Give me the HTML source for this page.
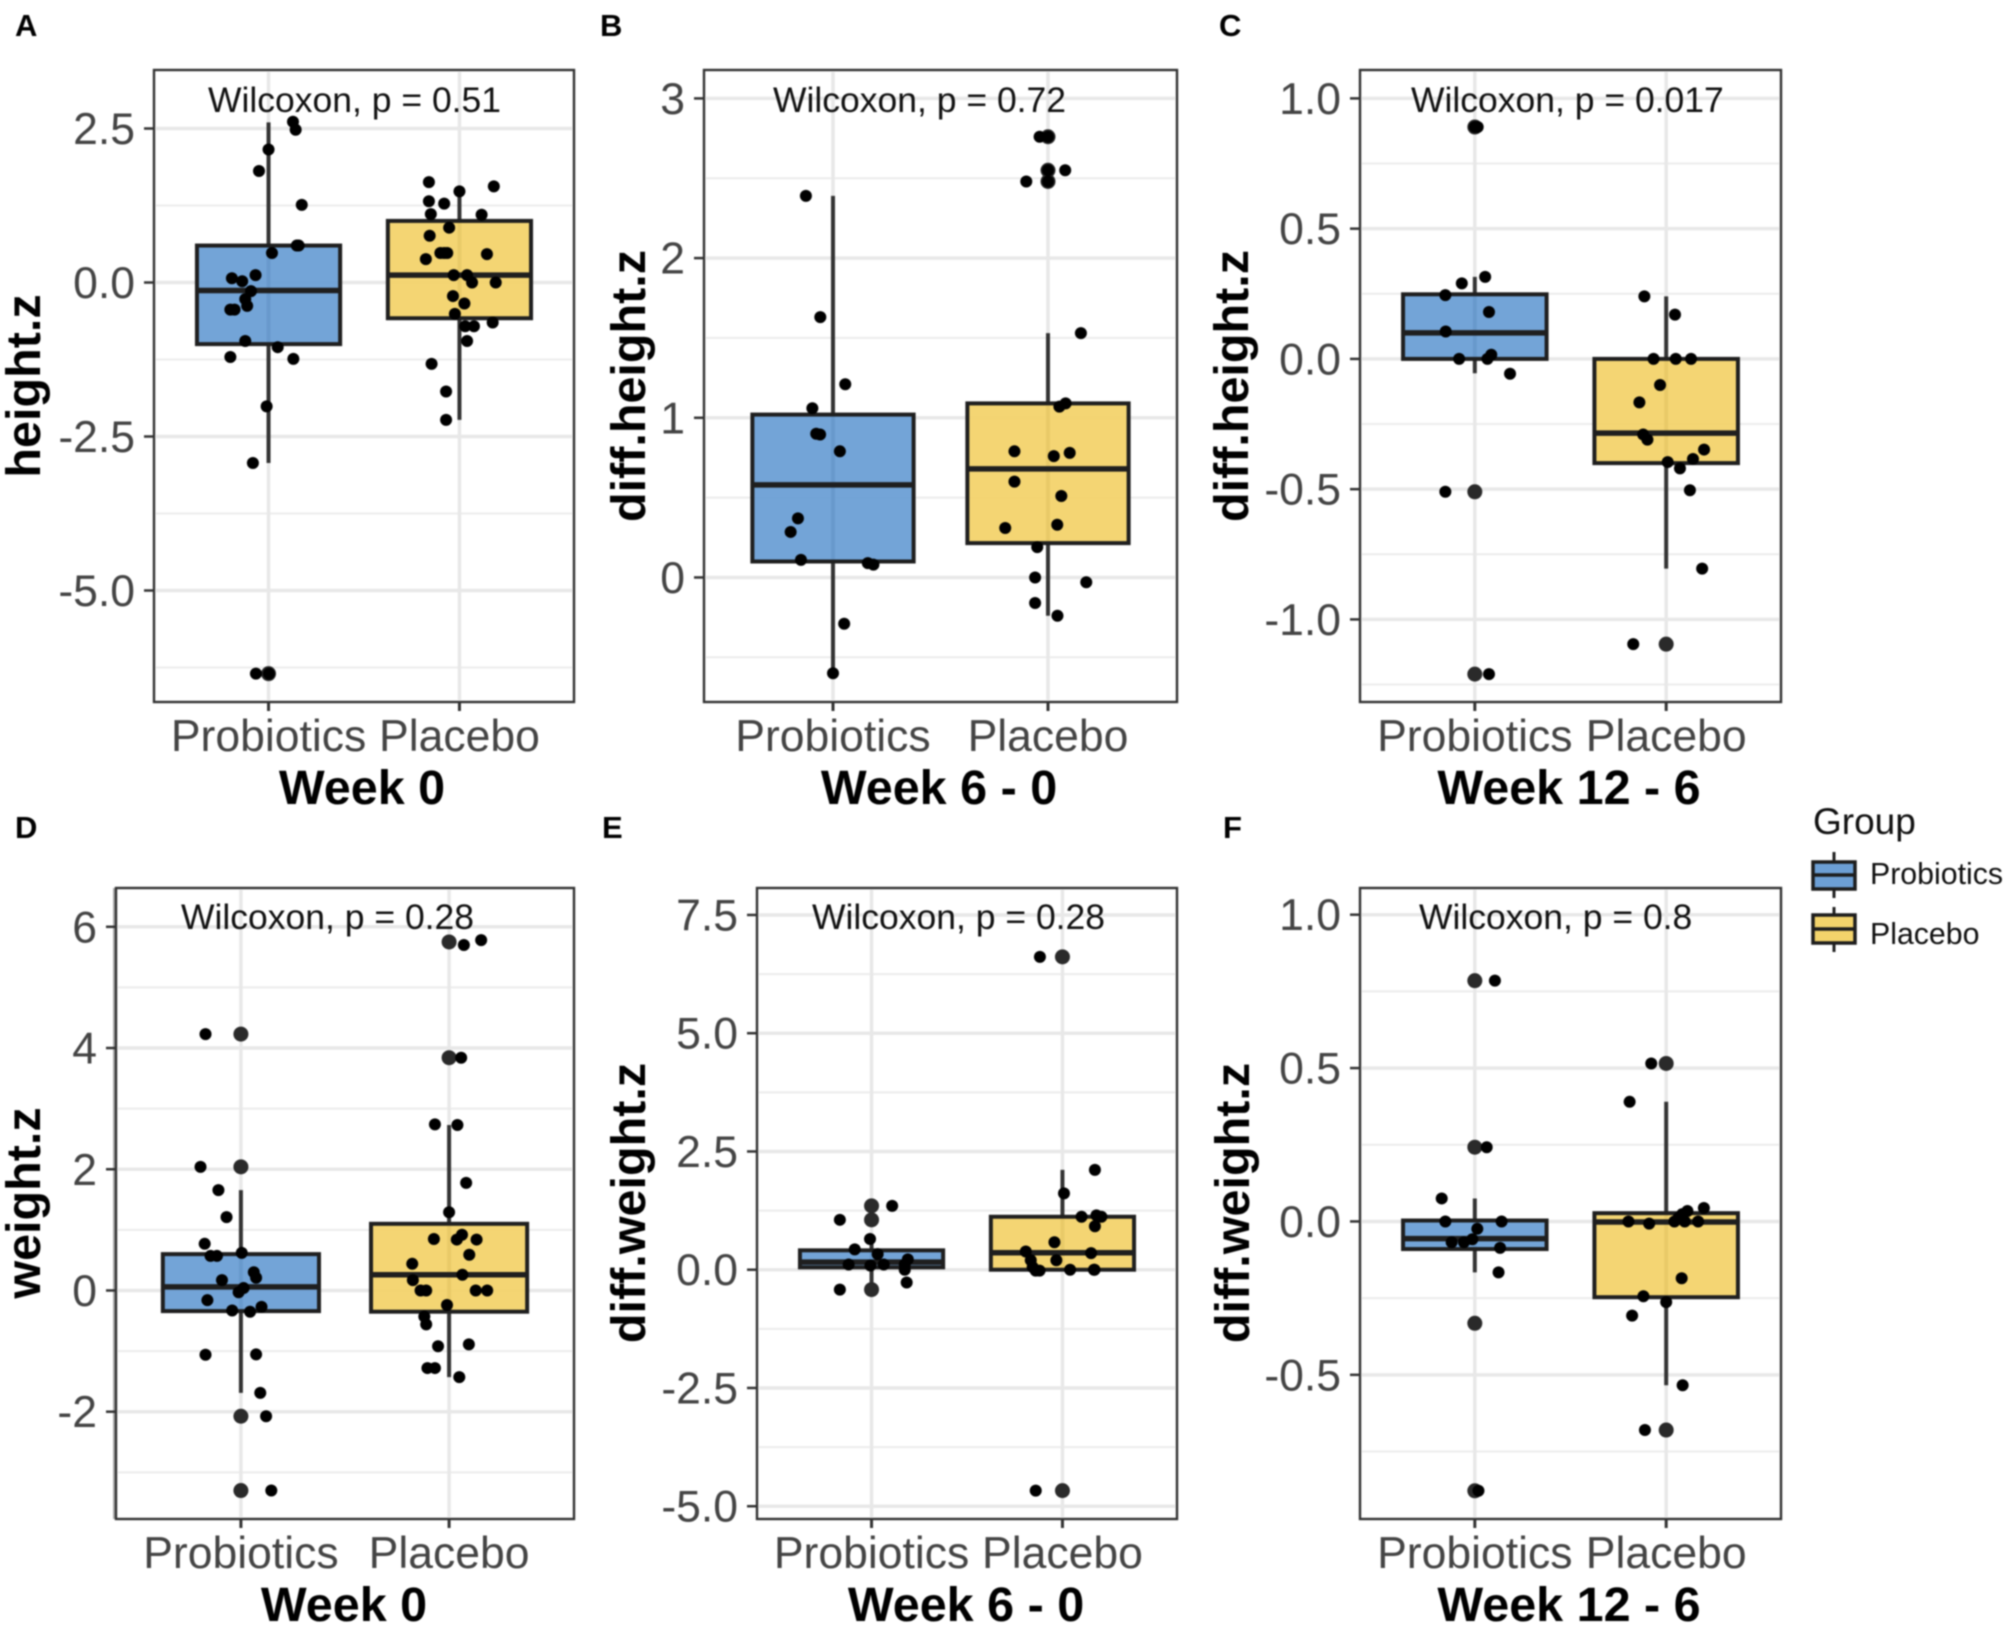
<!DOCTYPE html>
<html lang="en">
<head>
<meta charset="utf-8">
<title>Probiotics vs Placebo z-score boxplots</title>
<style>
html,body{margin:0;padding:0;background:#fff;}
#figure{display:block;width:2008px;height:1630px;filter:blur(0.75px);font-family:"Liberation Sans",Arial,sans-serif;}
.tag{font-size:31px;font-weight:700;fill:#000;}
.ytitle{font-size:48.5px;font-weight:700;fill:#000;text-anchor:middle;}
.xtitle{font-size:48.5px;font-weight:700;fill:#000;text-anchor:middle;}
.stat{font-size:35.5px;fill:#111;}
.tick{font-size:44.5px;fill:#444;}
.legend-title{font-size:37px;fill:#111;}
.legend-label{font-size:30.3px;fill:#111;}
</style>
</head>
<body>
<svg id="figure" xmlns="http://www.w3.org/2000/svg" width="2008" height="1630" viewBox="0 0 2008 1630">
  <rect x="0" y="0" width="2008" height="1630" fill="#fff"/>

  <g id="panel-a">
    <g class="marks"></g>
    <text class="tag" x="15" y="36">A</text>
    <text class="stat" x="208" y="112">Wilcoxon, p = 0.51</text>
    <text class="ytitle" transform="translate(40,386) rotate(-90)">height.z</text>
    <text class="xtitle" x="362" y="804">Week 0</text>
  </g>

  <g id="panel-b">
    <g class="marks"></g>
    <text class="tag" x="600" y="36">B</text>
    <text class="stat" x="773" y="112">Wilcoxon, p = 0.72</text>
    <text class="ytitle" transform="translate(645,386) rotate(-90)">diff.height.z</text>
    <text class="xtitle" x="939" y="804">Week 6 - 0</text>
  </g>

  <g id="panel-c">
    <g class="marks"></g>
    <text class="tag" x="1219" y="36">C</text>
    <text class="stat" x="1411" y="112">Wilcoxon, p = 0.017</text>
    <text class="ytitle" transform="translate(1248,386) rotate(-90)">diff.height.z</text>
    <text class="xtitle" x="1569" y="804">Week 12 - 6</text>
  </g>

  <g id="panel-d">
    <rect x="113" y="888" width="3" height="631" fill="#aaa"/>
    <g class="marks"></g>
    <text class="tag" x="15" y="838">D</text>
    <text class="stat" x="181" y="929">Wilcoxon, p = 0.28</text>
    <text class="ytitle" transform="translate(40,1203) rotate(-90)">weight.z</text>
    <text class="xtitle" x="344" y="1621">Week 0</text>
  </g>

  <g id="panel-e">
    <g class="marks"></g>
    <text class="tag" x="602" y="838">E</text>
    <text class="stat" x="812" y="929">Wilcoxon, p = 0.28</text>
    <text class="ytitle" transform="translate(645,1203) rotate(-90)">diff.weight.z</text>
    <text class="xtitle" x="966" y="1621">Week 6 - 0</text>
  </g>

  <g id="panel-f">
    <g class="marks"></g>
    <text class="tag" x="1223" y="838">F</text>
    <text class="stat" x="1419" y="929">Wilcoxon, p = 0.8</text>
    <text class="ytitle" transform="translate(1249,1203) rotate(-90)">diff.weight.z</text>
    <text class="xtitle" x="1569" y="1621">Week 12 - 6</text>
  </g>

  <g>
    <text class="legend-title" x="1813" y="834">Group</text>
    <g>
      <line x1="1834" x2="1834" y1="852" y2="898" stroke="#222" stroke-width="3"/>
      <rect x="1813" y="862" width="42" height="27" fill="#6c9fd5" stroke="#1d1d1d" stroke-width="3.5"/>
      <line x1="1813" x2="1855" y1="875" y2="875" stroke="#1d1d1d" stroke-width="3.5"/>
      <text class="legend-label" x="1870" y="884">Probiotics</text>
    </g>
    <g>
      <line x1="1834" x2="1834" y1="907" y2="952" stroke="#222" stroke-width="3"/>
      <rect x="1813" y="915" width="42" height="28" fill="#f3d36b" stroke="#1d1d1d" stroke-width="3.5"/>
      <line x1="1813" x2="1855" y1="929" y2="929" stroke="#1d1d1d" stroke-width="3.5"/>
      <text class="legend-label" x="1870" y="944">Placebo</text>
    </g>
  </g>
</svg>

<script>
// ---- Chart data ----
const categories = ['Probiotics', 'Placebo'];

// Panel A
const aDomain = [-6.81, 3.45];
const aTicks = [2.5, 0, -2.5, -5];
const aTickLabels = ['2.5', '0.0', '-2.5', '-5.0'];
const aMinorTicks = [1.25, -1.25, -3.75, -6.25];
const aBoxProbiotics = [-2.93, -1.0, -0.13, 0.6, 2.6];
const aBoxPlacebo = [-2.23, -0.58, 0.12, 1.0, 1.48];
const aOutliersProbiotics = [-6.35];
const aOutliersPlacebo = [];
const aValuesProbiotics = [2.61, 2.48, 2.16, 1.81, 1.26, 0.6, 0.6, 0.48, 0.07, 0.02, 0.12, -0.14, -0.27, -0.38, -0.44, -0.44, -0.95, -1.05, -1.21, -1.24, -2.01, -2.93, -6.35, -6.35];
const aJitterProbiotics = [0.128, 0.142, 0, -0.05, 0.174, 0.148, 0.158, 0.018, -0.192, -0.138, -0.068, -0.092, -0.122, -0.112, -0.178, -0.2, -0.122, 0.048, -0.2, 0.13, -0.01, -0.082, -0.066, 0.002];
const aValuesPlacebo = [1.63, 1.56, 1.48, 1.32, 1.28, 1.11, 1.1, 0.89, 0.76, 0.48, 0.48, 0.48, 0.46, 0.38, 0.12, 0.12, 0, 0, -0.22, -0.34, -0.51, -0.71, -0.71, -0.65, -0.95, -1.32, -1.77, -2.23];
const aJitterPlacebo = [-0.16, 0.18, 0, -0.16, -0.08, -0.15, 0.116, -0.054, -0.156, -0.1, -0.064, -0.08, 0.144, -0.176, -0.03, 0.04, 0.066, 0.19, -0.034, 0.026, -0.024, 0.03, 0.076, 0.174, 0.04, -0.146, -0.07, -0.07];

// Panel B
const bDomain = [-0.78, 3.178];
const bTicks = [3, 2, 1, 0];
const bTickLabels = ['3', '2', '1', '0'];
const bMinorTicks = [2.5, 1.5, 0.5, -0.5];
const bBoxProbiotics = [-0.6, 0.1, 0.58, 1.02, 2.39];
const bBoxPlacebo = [-0.24, 0.215, 0.68, 1.09, 1.53];
const bOutliersProbiotics = [];
const bOutliersPlacebo = [2.76, 2.55, 2.48];
const bValuesProbiotics = [2.39, 1.63, 1.21, 1.06, 0.9, 0.895, 0.79, 0.37, 0.285, 0.11, 0.09, 0.08, -0.29, -0.6];
const bJitterProbiotics = [-0.126, -0.059, 0.057, -0.096, -0.078, -0.06, 0.032, -0.163, -0.197, -0.149, 0.162, 0.188, 0.052, 0];
const bValuesPlacebo = [2.76, 2.76, 2.55, 2.55, 2.48, 2.48, 1.53, 1.09, 1.07, 0.79, 0.78, 0.76, 0.6, 0.51, 0.33, 0.31, 0.19, 0, -0.03, -0.16, -0.24];
const bJitterPlacebo = [-0.039, 0, 0, 0.08, 0, -0.101, 0.153, 0.082, 0.053, -0.156, 0.101, 0.027, -0.156, 0.062, 0.043, -0.199, -0.05, -0.06, 0.178, -0.06, 0.044];

// Panel C
const cDomain = [-1.317, 1.109];
const cTicks = [1, 0.5, 0, -0.5, -1];
const cTickLabels = ['1.0', '0.5', '0.0', '-0.5', '-1.0'];
const cMinorTicks = [0.75, 0.25, -0.25, -0.75, -1.25];
const cBoxProbiotics = [-0.055, 0, 0.1, 0.248, 0.315];
const cBoxPlacebo = [-0.805, -0.4, -0.285, 0, 0.24];
const cOutliersProbiotics = [0.89, -0.51, -1.21];
const cOutliersPlacebo = [-1.095];
const cValuesProbiotics = [0.89, 0.89, 0.315, 0.29, 0.245, 0.18, 0.105, 0.016, 0, 0, -0.057, -0.51, -1.21];
const cJitterProbiotics = [0, 0.015, 0.054, -0.068, -0.154, 0.074, -0.152, 0.086, 0.066, -0.082, 0.184, -0.154, 0.074];
const cValuesPlacebo = [0.24, 0.17, 0, 0, 0, -0.1, -0.167, -0.29, -0.31, -0.348, -0.384, -0.396, -0.42, -0.504, -0.805, -1.095];
const cJitterPlacebo = [-0.114, 0.046, -0.066, 0.05, 0.13, -0.032, -0.14, -0.12, -0.098, 0.198, 0.14, 0.008, 0.072, 0.124, 0.188, -0.172];

// Panel D
const dDomain = [-3.77, 6.64];
const dTicks = [6, 4, 2, 0, -2];
const dTickLabels = ['6', '4', '2', '0', '-2'];
const dMinorTicks = [5, 3, 1, -1, -3];
const dBoxProbiotics = [-1.69, -0.34, 0.06, 0.6, 1.655];
const dBoxPlacebo = [-1.43, -0.35, 0.26, 1.1, 2.73];
const dOutliersProbiotics = [4.23, 2.04, -2.075, -3.3];
const dOutliersPlacebo = [5.75, 3.84];
const dValuesProbiotics = [4.23, 2.04, 1.655, 1.21, 0.77, 0.57, 0.57, 0.62, 0.3, 0.21, 0.17, 0.04, -0.03, -0.16, -0.33, -0.35, -0.27, -1.06, -1.055, -1.69, -2.075, -3.3];
const dJitterProbiotics = [-0.17, -0.194, -0.108, -0.069, -0.174, -0.146, -0.115, 0.004, 0.062, 0.073, -0.091, 0.013, -0.011, -0.161, -0.042, 0.044, 0.099, -0.17, 0.073, 0.093, 0.121, 0.146];
const dValuesPlacebo = [5.7, 5.78, 3.84, 2.74, 2.73, 1.775, 1.29, 0.85, 0.84, 0.92, 0.84, 0.59, 0.44, 0.26, 0.17, 0, 0, 0, 0, -0.24, -0.43, -0.56, -0.92, -0.89, -1.28, -1.28, -1.43];
const dJitterPlacebo = [0.071, 0.154, 0.058, -0.068, 0.04, 0.082, 0, -0.073, 0.037, 0.062, 0.132, 0.097, -0.177, 0.064, -0.174, -0.137, -0.11, 0.128, 0.183, -0.01, -0.119, -0.11, -0.053, 0.095, -0.104, -0.068, 0.049];

// Panel E
const eDomain = [-5.27, 8.07];
const eTicks = [7.5, 5, 2.5, 0, -2.5, -5];
const eTickLabels = ['7.5', '5.0', '2.5', '0.0', '-2.5', '-5.0'];
const eMinorTicks = [6.25, 3.75, 1.25, -1.25, -3.75];
const eBoxProbiotics = [-0.42, 0.05, 0.16, 0.41, 0.65];
const eBoxPlacebo = [0, 0, 0.36, 1.12, 2.11];
const eOutliersProbiotics = [1.35, 1.055, -0.42];
const eOutliersPlacebo = [6.615, -4.67];
const eValuesProbiotics = [1.055, 1.35, 0.65, 0.43, 0.33, 0.11, 0.09, 0.11, 0.22, 0, -0.27, -0.42, 0.11];
const eJitterProbiotics = [-0.166, 0.108, -0.008, -0.088, 0.032, -0.12, -0.006, 0.064, 0.19, 0.174, 0.184, -0.166, 0.174];
const eValuesPlacebo = [6.615, 2.11, 1.615, 1.12, 1.15, 1.12, 0.92, 0.58, 0.385, 0.35, 0.2, 0.2, 0.055, -0.02, -0.02, 0, 0, 0, -4.67];
const eJitterPlacebo = [-0.118, 0.17, 0.008, 0.1, 0.178, 0.204, 0.17, -0.042, -0.192, 0.15, -0.166, -0.032, -0.156, -0.12, -0.14, 0.04, 0.168, 0.165, -0.14];

// Panel F
const fDomain = [-0.97, 1.087];
const fTicks = [1, 0.5, 0, -0.5];
const fTickLabels = ['1.0', '0.5', '0.0', '-0.5'];
const fMinorTicks = [0.75, 0.25, -0.25, -0.75];
const fBoxProbiotics = [-0.166, -0.09, -0.056, 0.003, 0.075];
const fBoxPlacebo = [-0.534, -0.247, -0.002, 0.027, 0.39];
const fOutliersProbiotics = [0.785, 0.242, -0.332, -0.878];
const fOutliersPlacebo = [0.515, -0.68];
const fValuesProbiotics = [0.785, 0.242, 0.075, 0, 0, -0.024, -0.058, -0.068, -0.068, -0.086, -0.166, -0.878];
const fJitterProbiotics = [0.105, 0.062, -0.173, -0.154, 0.14, 0.013, -0.013, -0.057, -0.121, 0.132, 0.124, 0.019];
const fValuesPlacebo = [0.515, 0.39, 0.044, 0.034, 0.024, 0.012, 0, 0, 0, 0, -0.007, -0.185, -0.244, -0.263, -0.307, -0.534, -0.68];
const fJitterPlacebo = [-0.078, -0.191, 0.197, 0.111, 0.084, 0.065, 0.097, 0.043, 0.167, -0.197, -0.089, 0.081, -0.119, 0, -0.178, 0.086, -0.111];

// ---- Drawing ----
const NS = 'http://www.w3.org/2000/svg';
const groupFill = ['#6c9fd5', '#f3d36b'];
const groupKey = ['probiotics', 'placebo'];

const panels = [
  {id: 'a', frame: {l: 154, r: 574, t: 70, b: 702}, labelY: 751, domain: aDomain, ticks: aTicks, tickLabels: aTickLabels, minor: aMinorTicks,
   boxes: [aBoxProbiotics, aBoxPlacebo], outliers: [aOutliersProbiotics, aOutliersPlacebo], values: [aValuesProbiotics, aValuesPlacebo], jitter: [aJitterProbiotics, aJitterPlacebo]},
  {id: 'b', frame: {l: 704, r: 1177, t: 70, b: 702}, labelY: 751, domain: bDomain, ticks: bTicks, tickLabels: bTickLabels, minor: bMinorTicks,
   boxes: [bBoxProbiotics, bBoxPlacebo], outliers: [bOutliersProbiotics, bOutliersPlacebo], values: [bValuesProbiotics, bValuesPlacebo], jitter: [bJitterProbiotics, bJitterPlacebo]},
  {id: 'c', frame: {l: 1360, r: 1781, t: 70, b: 702}, labelY: 751, domain: cDomain, ticks: cTicks, tickLabels: cTickLabels, minor: cMinorTicks,
   boxes: [cBoxProbiotics, cBoxPlacebo], outliers: [cOutliersProbiotics, cOutliersPlacebo], values: [cValuesProbiotics, cValuesPlacebo], jitter: [cJitterProbiotics, cJitterPlacebo]},
  {id: 'd', frame: {l: 116, r: 574, t: 888, b: 1519}, labelY: 1568, domain: dDomain, ticks: dTicks, tickLabels: dTickLabels, minor: dMinorTicks,
   boxes: [dBoxProbiotics, dBoxPlacebo], outliers: [dOutliersProbiotics, dOutliersPlacebo], values: [dValuesProbiotics, dValuesPlacebo], jitter: [dJitterProbiotics, dJitterPlacebo]},
  {id: 'e', frame: {l: 757, r: 1177, t: 888, b: 1519}, labelY: 1568, domain: eDomain, ticks: eTicks, tickLabels: eTickLabels, minor: eMinorTicks,
   boxes: [eBoxProbiotics, eBoxPlacebo], outliers: [eOutliersProbiotics, eOutliersPlacebo], values: [eValuesProbiotics, eValuesPlacebo], jitter: [eJitterProbiotics, eJitterPlacebo]},
  {id: 'f', frame: {l: 1360, r: 1781, t: 888, b: 1519}, labelY: 1568, domain: fDomain, ticks: fTicks, tickLabels: fTickLabels, minor: fMinorTicks,
   boxes: [fBoxProbiotics, fBoxPlacebo], outliers: [fOutliersProbiotics, fOutliersPlacebo], values: [fValuesProbiotics, fValuesPlacebo], jitter: [fJitterProbiotics, fJitterPlacebo]}
];

function make(parent, tag, attrs) {
  const el = document.createElementNS(NS, tag);
  for (const k in attrs) el.setAttribute(k, attrs[k]);
  parent.appendChild(el);
  return el;
}

function drawPanel(p) {
  const root = document.querySelector('#panel-' + p.id + ' .marks');
  const f = p.frame;
  const yScale = v => f.b - (v - p.domain[0]) / (p.domain[1] - p.domain[0]) * (f.b - f.t);
  const unit = (f.r - f.l) / 2.2;
  const xScale = c => f.l + (c + 0.6) * unit;
  const pre = 'panel-' + p.id + '-';

  p.minor.forEach(v => {
    const el = make(root, 'line', {x1: f.l + 2, x2: f.r - 2, y1: yScale(v), y2: yScale(v), stroke: '#ececec', 'stroke-width': 2});
    
    
  });
  p.ticks.forEach((v, i) => {
    const grid = make(root, 'line', {x1: f.l + 2, x2: f.r - 2, y1: yScale(v), y2: yScale(v), stroke: '#e8e8e8', 'stroke-width': 3.5});
    
    
    const tick = make(root, 'line', {x1: f.l - 10, x2: f.l, y1: yScale(v), y2: yScale(v), stroke: '#333', 'stroke-width': 2.5});
    
    
    const label = make(root, 'text', {x: f.l - 19, y: yScale(v) + 15.5, 'text-anchor': 'end', class: 'tick'});
    
    
    label.textContent = p.tickLabels[i];
  });

  categories.forEach((name, c) => {
    const cx = xScale(c);
    const grid = make(root, 'line', {x1: cx, x2: cx, y1: f.t + 2, y2: f.b - 2, stroke: '#e8e8e8', 'stroke-width': 3.5});
    
    
    const tick = make(root, 'line', {x1: cx, x2: cx, y1: f.b, y2: f.b + 9, stroke: '#333', 'stroke-width': 3});
    
    
    const label = make(root, 'text', {x: cx, y: p.labelY, 'text-anchor': 'middle', class: 'tick'});
    
    
    label.textContent = name;
  });

  categories.forEach((name, c) => {
    const cx = xScale(c);
    const b = p.boxes[c];
    const halfW = 0.375 * unit;
    const whisker = make(root, 'line', {x1: cx, x2: cx, y1: yScale(b[0]), y2: yScale(b[4]), stroke: '#333', 'stroke-width': 4});
    
    
    const box = make(root, 'rect', {x: cx - halfW, y: yScale(b[3]), width: 2 * halfW, height: yScale(b[1]) - yScale(b[3]), fill: groupFill[c], 'fill-opacity': 0.95, stroke: '#1f1f1f', 'stroke-width': 4});
    
    
    const median = make(root, 'line', {x1: cx - halfW, x2: cx + halfW, y1: yScale(b[2]), y2: yScale(b[2]), stroke: '#1f1f1f', 'stroke-width': 5.5});
    
    
    p.outliers[c].forEach(v => {
      const o = make(root, 'circle', {cx: cx, cy: yScale(v), r: 7.5, fill: '#2a2a2a'});
      
      
    });
    p.values[c].forEach((v, i) => {
      const pt = make(root, 'circle', {cx: xScale(c + p.jitter[c][i]), cy: yScale(v), r: 6, fill: '#000'});
      
      
    });
  });

  const border = make(root, 'rect', {x: f.l, y: f.t, width: f.r - f.l, height: f.b - f.t, fill: 'none', stroke: '#333', 'stroke-width': 2.4});
  
  
}

panels.forEach(drawPanel);
</script>
</body>
</html>
